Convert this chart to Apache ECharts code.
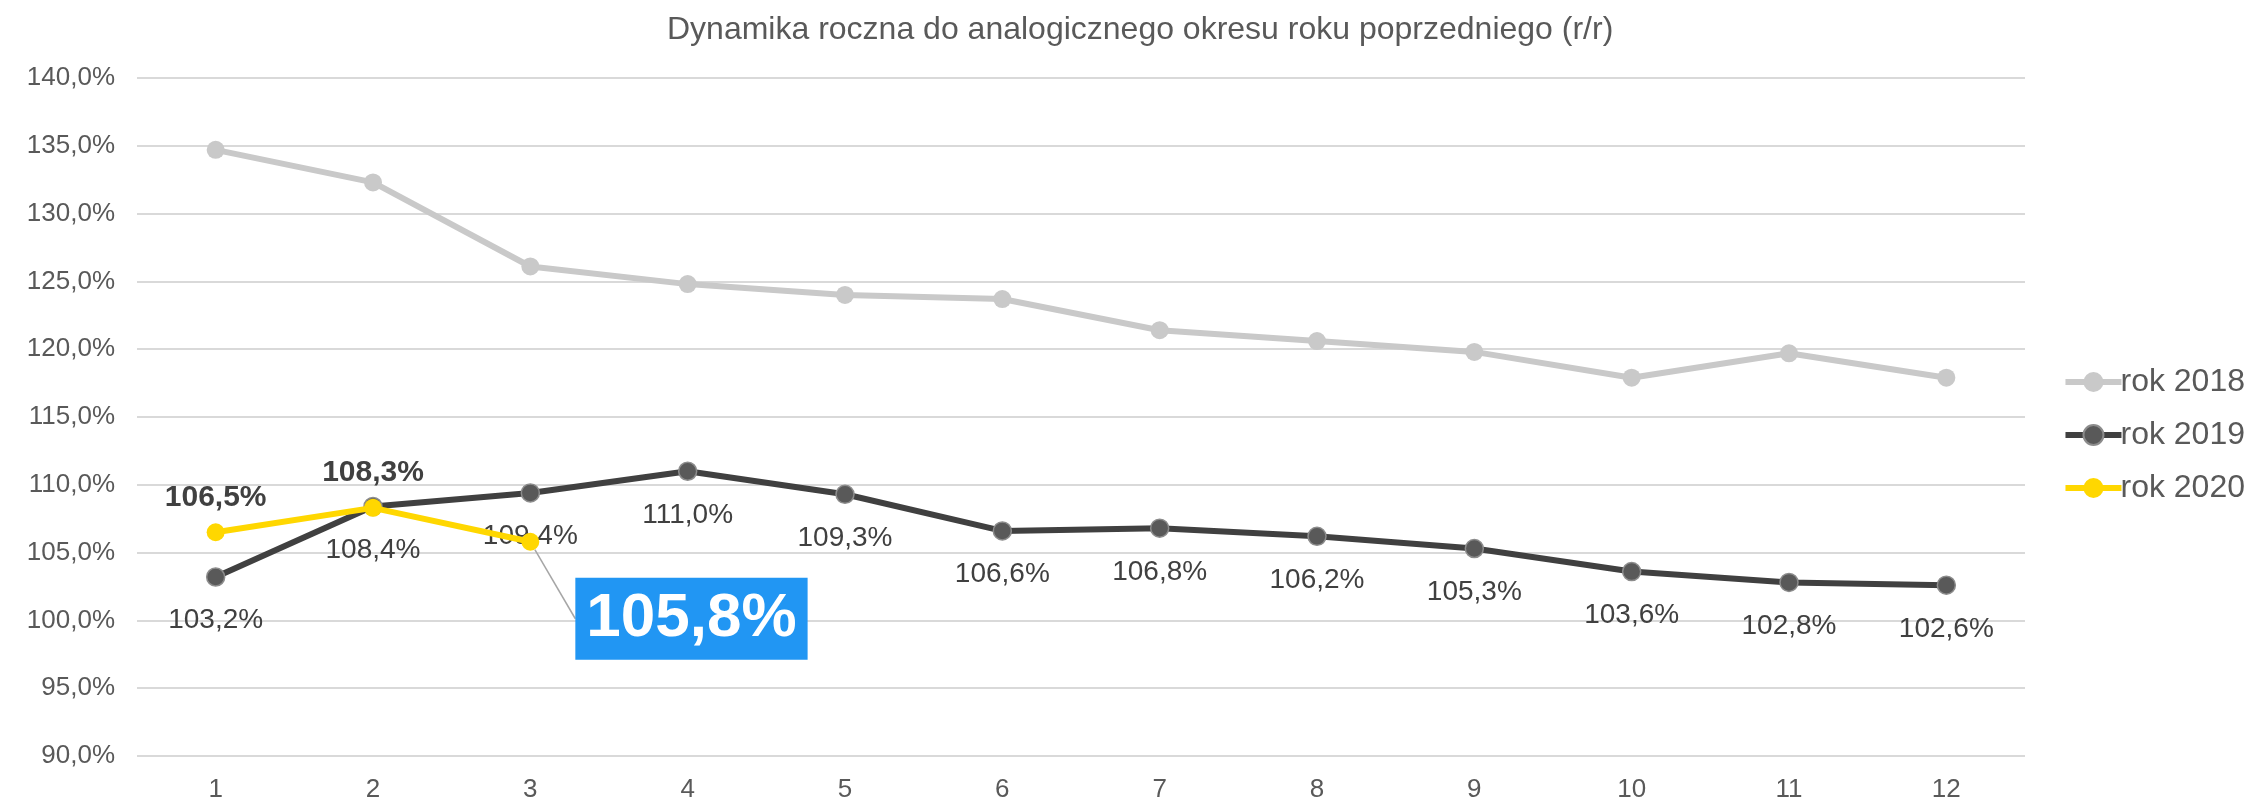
<!DOCTYPE html>
<html>
<head>
<meta charset="utf-8">
<script src="https://cdn.jsdelivr.net/npm/echarts@6/dist/echarts.min.js"></script>
<style>
html,body{margin:0;padding:0;background:#fff;}
#chart{width:2258px;height:803px;}
</style>
</head>
<body>
<div id="chart"></div>
<script>
const titleText = 'Dynamika roczna do analogicznego okresu roku poprzedniego (r/r)';
const months = ['1','2','3','4','5','6','7','8','9','10','11','12'];
const seriesNames = ['rok 2018','rok 2019','rok 2020'];
const values2018 = [134.7, 132.3, 126.1, 124.8, 124.0, 123.7, 121.4, 120.6, 119.8, 117.9, 119.7, 117.9];
const values2019 = [103.2, 108.4, 109.4, 111.0, 109.3, 106.6, 106.8, 106.2, 105.3, 103.6, 102.8, 102.6];
const values2020 = [106.5, 108.3, 105.8];
const yMin = 90, yMax = 140, yStep = 5;

const FONT = '"Liberation Sans", Arial, sans-serif';
const fmt = v => v.toFixed(1).replace('.', ',') + '%';

const chart = echarts.init(document.getElementById('chart'), null, {renderer: 'canvas'});

const data2020 = values2020.map((v, i) => {
  if (i === values2020.length - 1) {
    return {
      value: v,
      label: {
        position: 'right',
        distance: 5,
        color: '#ffffff',
        fontWeight: 'bold',
        fontSize: 62,
        backgroundColor: '#2196F3',
        padding: [10, 11, 6, 11],
        lineHeight: 66
      },
      labelLine: {show: true, lineStyle: {color: '#a6a6a6', width: 1.5}}
    };
  }
  return v;
});

chart.setOption({
  animation: false,
  backgroundColor: '#ffffff',
  title: {
    text: titleText,
    left: 662,
    top: 9,
    textStyle: {color: '#595959', fontSize: 32, fontWeight: 'normal', fontFamily: FONT}
  },
  legend: {
    orient: 'vertical',
    right: 8,
    top: 361,
    itemWidth: 56,
    itemHeight: 25,
    itemGap: 21,
    lineStyle: {width: 6},
    textStyle: {color: '#595959', fontSize: 32, fontFamily: FONT, padding: [0, 0, 0, -6]},
    data: seriesNames
  },
  grid: {left: 137, right: 233, top: 78, bottom: 47},
  xAxis: {
    type: 'category',
    data: months,
    boundaryGap: true,
    axisLine: {show: false},
    axisTick: {show: false},
    axisLabel: {color: '#595959', fontSize: 26, fontFamily: FONT, margin: 21}
  },
  yAxis: {
    type: 'value',
    min: yMin,
    max: yMax,
    interval: yStep,
    axisLine: {show: false},
    axisTick: {show: false},
    splitLine: {lineStyle: {color: '#d9d9d9', width: 2}},
    axisLabel: {color: '#595959', fontSize: 26, fontFamily: FONT, margin: 22,
      formatter: v => v.toFixed(1).replace('.', ',') + '%'}
  },
  series: [
    {
      name: seriesNames[0],
      type: 'line',
      data: values2018,
      symbol: 'circle',
      symbolSize: 18,
      lineStyle: {color: '#c9c9c9', width: 6},
      itemStyle: {color: '#c9c9c9'},
      z: 2
    },
    {
      name: seriesNames[1],
      type: 'line',
      data: values2019,
      symbol: 'circle',
      symbolSize: 18,
      lineStyle: {color: '#404040', width: 6},
      itemStyle: {color: '#595959', borderColor: '#8c8c8c', borderWidth: 1.5},
      label: {
        show: true,
        position: 'bottom',
        distance: 20,
        color: '#404040',
        fontSize: 28,
        fontFamily: FONT,
        formatter: p => fmt(p.value)
      },
      z: 3
    },
    {
      name: seriesNames[2],
      type: 'line',
      data: data2020,
      symbol: 'circle',
      symbolSize: 18,
      lineStyle: {color: '#ffd700', width: 6},
      itemStyle: {color: '#ffd700'},
      label: {
        show: true,
        position: 'top',
        distance: 11,
        color: '#404040',
        fontWeight: 'bold',
        fontSize: 30,
        fontFamily: FONT,
        formatter: p => fmt(p.value)
      },
      labelLayout: function (params) {
        if (params.dataIndex === values2020.length - 1) {
          return {dx: 31, dy: 77};
        }
        return {};
      },
      z: 4
    }
  ]
});
</script>
</body>
</html>
